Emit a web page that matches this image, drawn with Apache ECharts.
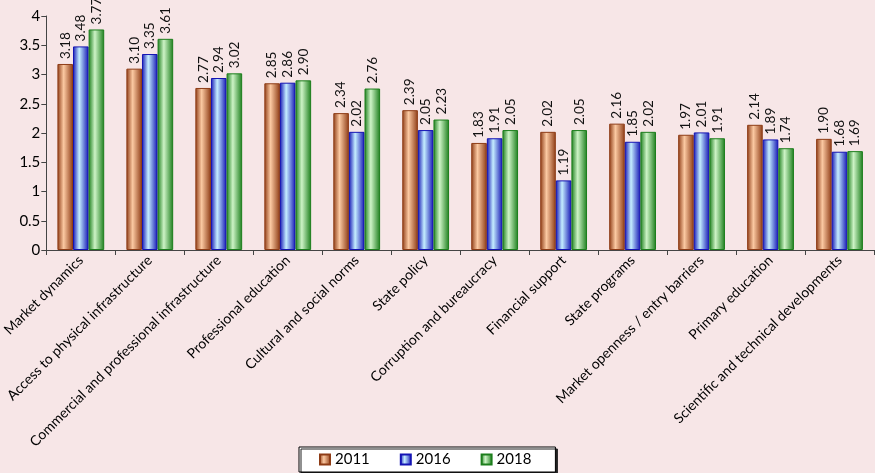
<!DOCTYPE html>
<html>
<head>
<meta charset="utf-8">
<script src="https://cdn.jsdelivr.net/npm/echarts@6/dist/echarts.min.js"></script>
<style>
  html, body { margin: 0; padding: 0; background: #f7e6e7; }
  #chart { width: 875px; height: 473px; }
</style>
</head>
<body>
<div id="chart"></div>
<script>
const categories = [
    'Market dynamics',
    'Access to physical infrastructure',
    'Commercial and professional infrastructure',
    'Professional education',
    'Cultural and social norms',
    'State policy',
    'Corruption and bureaucracy',
    'Financial support',
    'State programs',
    'Market openness / entry barriers',
    'Primary education',
    'Scientific and technical developments'
]
const years = ['2011', '2016', '2018']
const values2011 = [3.18, 3.10, 2.77, 2.85, 2.34, 2.39, 1.83, 2.02, 2.16, 1.97, 2.14, 1.90]
const values2016 = [3.48, 3.35, 2.94, 2.86, 2.02, 2.05, 1.91, 1.19, 1.85, 2.01, 1.89, 1.68]
const values2018 = [3.77, 3.61, 3.02, 2.90, 2.76, 2.23, 2.05, 2.05, 2.02, 1.91, 1.74, 1.69]

const FONT = 'Lato'

// cylinder-like horizontal gradient
const grad = (dark, light) => new echarts.graphic.LinearGradient(0, 0, 1, 0, [
    { offset: 0, color: dark },
    { offset: 0.4, color: light },
    { offset: 1, color: dark }
])

const genSeries = (name, data, dark, light) => ({
    name: name,
    type: 'bar',
    data: data,
    barGap: 0,
    barWidth: 15.6,
    itemStyle: {
        color: grad(dark, light),
        borderColor: dark,
        borderWidth: 1
    },
    label: {
        show: true,
        position: 'top',
        rotate: 90,
        align: 'left',
        verticalAlign: 'middle',
        distance: 5,
        fontFamily: FONT,
        fontSize: 13.5,
        color: '#111',
        formatter: p => p.value.toFixed(2)
    }
})

const chart = echarts.init(document.getElementById('chart'))
chart.setOption({
    backgroundColor: '#f7e6e7',
    animation: false,
    grid: { left: 35, right: 1, top: 16, bottom: 223 },
    legend: {
        data: years,
        left: 299,
        top: 447,
        padding: [5, 24, 5, 20],
        itemGap: 30,
        itemWidth: 10,
        itemHeight: 10,
        icon: 'rect',
        backgroundColor: '#fff',
        borderColor: '#000',
        borderWidth: 1,
        shadowColor: '#222',
        shadowOffsetX: 2,
        shadowOffsetY: 2,
        shadowBlur: 0,
        textStyle: { fontFamily: FONT, fontSize: 15, color: '#000' }
    },
    xAxis: {
        type: 'category',
        data: categories,
        axisLine: { lineStyle: { color: '#444', width: 1 } },
        axisTick: { show: true, length: 5, lineStyle: { color: '#444' } },
        axisLabel: {
            interval: 0,
            rotate: 45,
            margin: 8,
            fontFamily: FONT,
            fontSize: 14,
            color: '#000'
        }
    },
    yAxis: {
        type: 'value',
        min: 0,
        max: 4,
        interval: 0.5,
        axisLine: { show: true, lineStyle: { color: '#444', width: 1 } },
        axisTick: { show: true, length: 5, lineStyle: { color: '#444' } },
        splitLine: { show: false },
        axisLabel: {
            margin: 6,
            fontFamily: FONT,
            fontSize: 15,
            color: '#000'
        }
    },
    series: [
        genSeries(years[0], values2011, '#8e3c16', '#fbc9a2'),
        genSeries(years[1], values2016, '#1414b4', '#c4eeff'),
        genSeries(years[2], values2018, '#1c7e1c', '#cdf3c6')
    ]
})
</script>
</body>
</html>
